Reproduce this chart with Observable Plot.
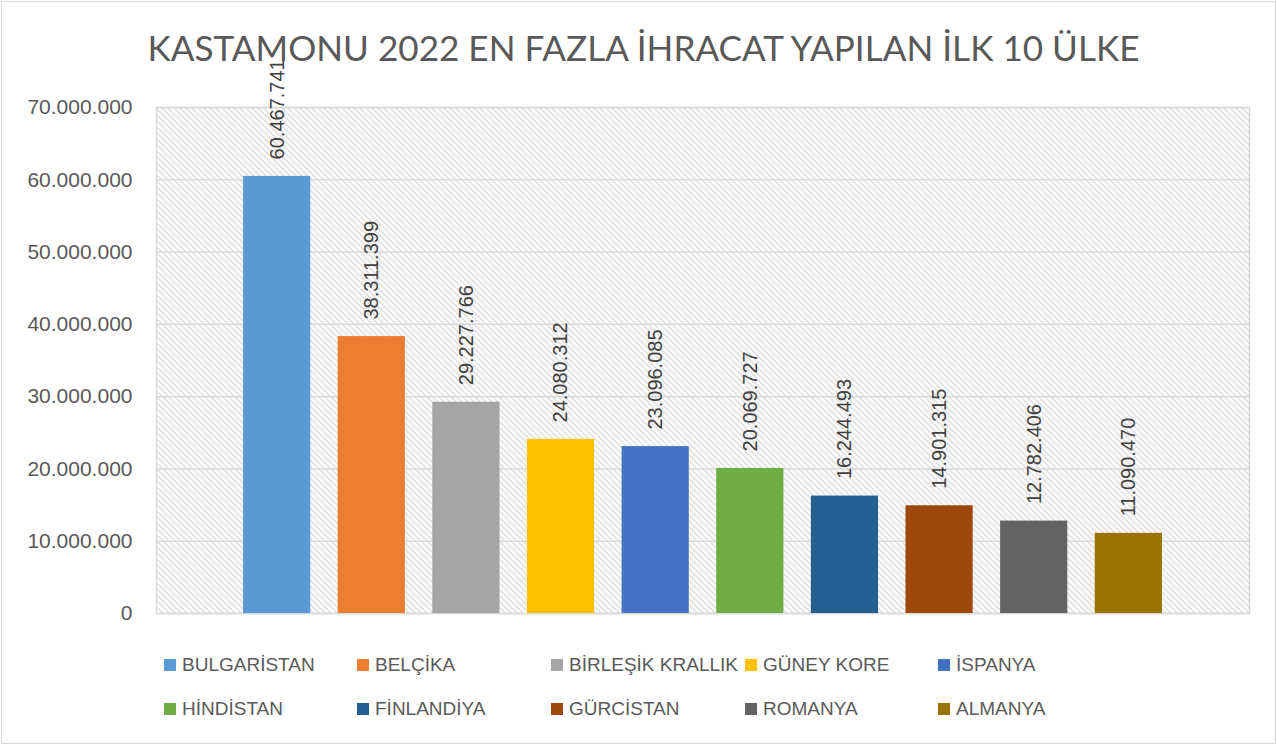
<!DOCTYPE html>
<html>
<head>
<meta charset="utf-8">
<script src="https://cdn.jsdelivr.net/npm/d3@7"></script>
<script src="https://cdn.jsdelivr.net/npm/@observablehq/plot@0.6"></script>
<style>
  html, body { margin: 0; padding: 0; background: #fff; }
  body { width: 1277px; height: 745px; position: relative; overflow: hidden; font-family: "Liberation Sans", Arial, sans-serif; }
  #border { position: absolute; left: 1px; top: 1px; width: 1273px; height: 741px; border: 1px solid #d9d9d9; pointer-events: none; }
  #title { height: 72px; display: flex; align-items: center; justify-content: center; color: #595959; font-family: Lato, "Open Sans", sans-serif; font-weight: 400; font-size: 38px; white-space: nowrap; padding-left: 10px; box-sizing: border-box; }
  #title span { position: relative; top: 11px; }
  #chart { height: 560px; }
  #legend { position: relative; height: 113px; }
  .item { position: absolute; display: flex; align-items: center; font-size: 19px; color: #595959; white-space: nowrap; }
  .sw { width: 12px; height: 12px; margin-right: 6px; }
</style>
</head>
<body>
<div id="title"><span id="ttext">KASTAMONU 2022 EN FAZLA İHRACAT YAPILAN İLK 10 ÜLKE</span></div>
<div id="chart"></div>
<div id="legend"></div>
<div id="border"></div>
<script>
const countries = ["BULGARİSTAN", "BELÇİKA", "BİRLEŞİK KRALLIK", "GÜNEY KORE", "İSPANYA", "HİNDİSTAN", "FİNLANDİYA", "GÜRCİSTAN", "ROMANYA", "ALMANYA"];
const values = [60467741, 38311399, 29227766, 24080312, 23096085, 20069727, 16244493, 14901315, 12782406, 11090470];
const colors = ["#5B9BD5", "#ED7D31", "#A5A5A5", "#FFC000", "#4472C4", "#70AD47", "#255E91", "#9E480E", "#636363", "#997300"];
const yTicks = [0, 10000000, 20000000, 30000000, 40000000, 50000000, 60000000, 70000000];

const data = countries.map((c, i) => ({country: c, value: values[i]}));
const loc = d3.formatLocale({decimal: ",", thousands: ".", grouping: [3], currency: ["", ""]});
const fmt = loc.format(",");

// fit title width
const tt = document.getElementById("ttext");
{
  const target = 992;
  const w = tt.getBoundingClientRect().width;
  const fs = 38 * target / w;
  document.getElementById("title").style.fontSize = fs.toFixed(2) + "px";
}

const chart = Plot.plot({
  width: 1277,
  height: 560,
  marginTop: 35,
  marginBottom: 19,
  marginLeft: 156,
  marginRight: 28,
  style: {overflow: "visible", fontFamily: "'Liberation Sans', Arial, sans-serif", background: "transparent"},
  x: {domain: countries, paddingInner: 0.29, paddingOuter: 0.92, round: false, axis: null},
  y: {domain: [0, 70000000], ticks: yTicks, tickFormat: fmt, label: null, tickSize: 0, tickPadding: 24},
  color: {domain: countries, range: colors},
  marks: [
    Plot.frame({fill: "url(#hatch)", stroke: "none"}),
    Plot.gridY(yTicks, {stroke: "#d9d9d9", strokeOpacity: 1, strokeWidth: 1.5}),
    Plot.frame({stroke: "#d9d9d9", strokeWidth: 1.5}),
    Plot.barY(data, {x: "country", y: "value", fill: "country"}),
    Plot.text(data, {x: "country", y: "value", text: d => fmt(d.value), rotate: -90, textAnchor: "start", dy: -17, fontSize: 20, fill: "#404040"}),
    Plot.axisY({ticks: yTicks, tickFormat: fmt, tickSize: 0, tickPadding: 24, fontSize: 21, fill: "#595959", label: null})
  ]
});

const svg = d3.select(chart);
const defs = svg.insert("defs", ":first-child");
const pat = defs.append("pattern").attr("id", "hatch").attr("patternUnits", "userSpaceOnUse").attr("width", 6).attr("height", 6);
pat.append("rect").attr("width", 6).attr("height", 6).attr("fill", "#fff");
pat.append("path").attr("d", "M-1,-1 L7,7 M-1,5 L1,7 M5,-1 L7,1").attr("stroke", "#d6d6d6").attr("stroke-width", 1.3);
document.getElementById("chart").appendChild(chart);

const legend = document.getElementById("legend");
const colX = [164, 357, 551, 745, 938];
const rowY = [33, 77];
countries.forEach((c, i) => {
  const el = document.createElement("div");
  el.className = "item";
  el.style.left = colX[i % 5] + "px";
  el.style.top = (rowY[Math.floor(i / 5)] - 11) + "px";
  el.innerHTML = `<div class="sw" style="background:${colors[i]}"></div><span>${c}</span>`;
  legend.appendChild(el);
});
</script>
</body>
</html>
